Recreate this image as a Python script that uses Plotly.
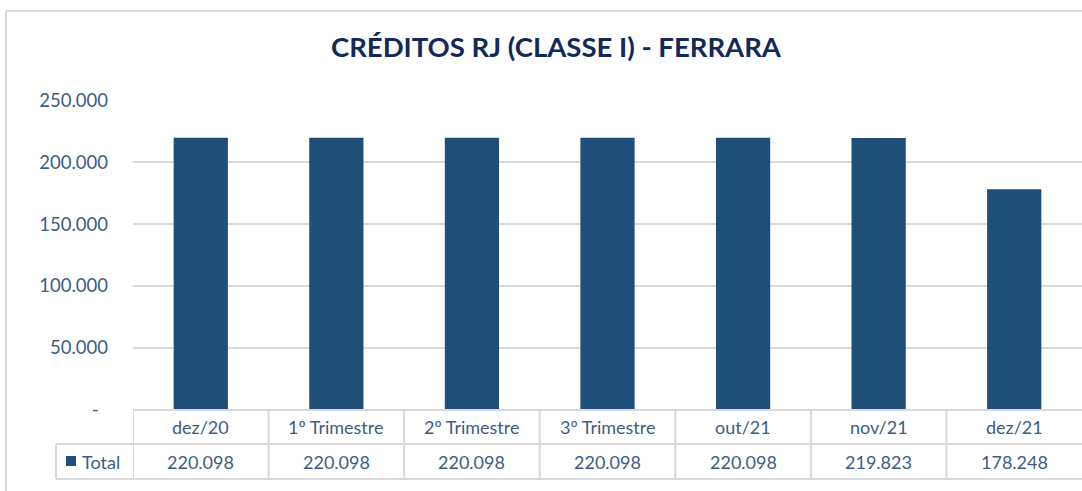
import plotly.graph_objects as go

categories = ["dez/20", "1º Trimestre", "2º Trimestre", "3º Trimestre", "out/21", "nov/21", "dez/21"]
values = [220098, 220098, 220098, 220098, 220098, 219823, 178248]
value_labels = ["220.098", "220.098", "220.098", "220.098", "220.098", "219.823", "178.248"]
tick_vals = [0, 50000, 100000, 150000, 200000, 250000]
tick_text = ["-\u00a0\u00a0", "50.000", "100.000", "150.000", "200.000", "250.000"]
series_name = "Total"
title_text = "CRÉDITOS RJ (CLASSE I) - FERRARA"

W, H = 1082, 491
BAR = "#1f4e79"
TXT = "#3d5d84"
GRID = "#d9d9d9"
FONT = "Lato"

def py(p):
    return (H - p) / H

def px(p):
    return p / W

x_dom = [px(133), 1.0]
y_dom = [py(409.5), py(100.7)]

fig = go.Figure()
fig.add_trace(go.Bar(x=list(range(len(categories))), y=values, width=0.4,
                     marker=dict(color=BAR, line=dict(width=0)), name=series_name,
                     showlegend=False))

shapes = []
# chart border (top and left edges; right/bottom lie outside the picture)
shapes.append(dict(type="line", xref="paper", yref="paper", x0=px(6), x1=1.0,
                   y0=py(11), y1=py(11), line=dict(color=GRID, width=2), layer="below"))
shapes.append(dict(type="line", xref="paper", yref="paper", x0=px(6), x1=px(6),
                   y0=0.0, y1=py(11), line=dict(color=GRID, width=2), layer="below"))
# table horizontal lines
row_top, row_mid, row_bot = py(410), py(444), py(479)
n = len(categories)
shapes.append(dict(type="line", xref="x", yref="paper", x0=-0.5, x1=n - 0.5,
                   y0=row_top, y1=row_top, line=dict(color=GRID, width=2)))
for yy in (row_mid, row_bot):
    shapes.append(dict(type="line", xref="paper", yref="paper", x0=px(56), x1=1.0,
                       y0=yy, y1=yy, line=dict(color=GRID, width=2)))
# vertical lines
for i in range(n):
    shapes.append(dict(type="line", xref="x", yref="paper", x0=i - 0.5, x1=i - 0.5,
                       y0=row_top, y1=row_bot, line=dict(color=GRID, width=2)))
shapes.append(dict(type="line", xref="paper", yref="paper", x0=px(56), x1=px(56),
                   y0=row_mid, y1=row_bot, line=dict(color=GRID, width=2)))
# legend key
shapes.append(dict(type="rect", xref="paper", yref="paper", x0=px(66), x1=px(76),
                   y0=py(466), y1=py(456), fillcolor=BAR, line=dict(width=0)))

annotations = []
for i, (c, v) in enumerate(zip(categories, value_labels)):
    annotations.append(dict(x=i, y=(row_top + row_mid) / 2, xref="x", yref="paper",
                            text=c, showarrow=False, font=dict(family=FONT, size=18, color=TXT),
                            xanchor="center", yanchor="middle"))
    annotations.append(dict(x=i, y=(row_mid + row_bot) / 2, xref="x", yref="paper",
                            text=v, showarrow=False, font=dict(family=FONT, size=18, color=TXT),
                            xanchor="center", yanchor="middle"))
annotations.append(dict(x=px(80), y=(row_mid + row_bot) / 2, xref="paper", yref="paper",
                        text=series_name, showarrow=False,
                        font=dict(family=FONT, size=18, color=TXT),
                        xanchor="left", yanchor="middle"))
annotations.append(dict(x=px(556), y=py(46), xref="paper", yref="paper",
                        text="<b>" + title_text + "</b>", showarrow=False,
                        font=dict(family=FONT, size=27.5, color="#12295a"),
                        xanchor="center", yanchor="middle"))

fig.update_layout(
    width=W, height=H, margin=dict(l=0, r=0, t=0, b=0, pad=0, autoexpand=False),
    paper_bgcolor="white", plot_bgcolor="white",
    shapes=shapes, annotations=annotations, bargap=0.6,
    xaxis=dict(domain=x_dom, range=[-0.5, n - 0.5], showticklabels=False, automargin=False,
               showgrid=False, zeroline=False, showline=False, fixedrange=True),
    yaxis=dict(domain=y_dom, range=[0, 250000], tickvals=tick_vals, ticktext=tick_text,
               showgrid=True, gridcolor=GRID, gridwidth=2, zeroline=False, showline=False,
               ticks="", ticklabelstandoff=24, fixedrange=True, automargin=False,
               tickfont=dict(family=FONT, size=18.5, color=TXT)),
)

fig.write_html("out.html",
               config={"displayModeBar": False, "staticPlot": True},
               post_script="var d=document.getElementById('{plot_id}');"
                           "d.style.position='fixed';d.style.top='0';d.style.left='0';"
                           "document.body.style.margin='0';"
                           "document.body.style.overflow='hidden';"
                           "document.documentElement.style.overflow='hidden';")
